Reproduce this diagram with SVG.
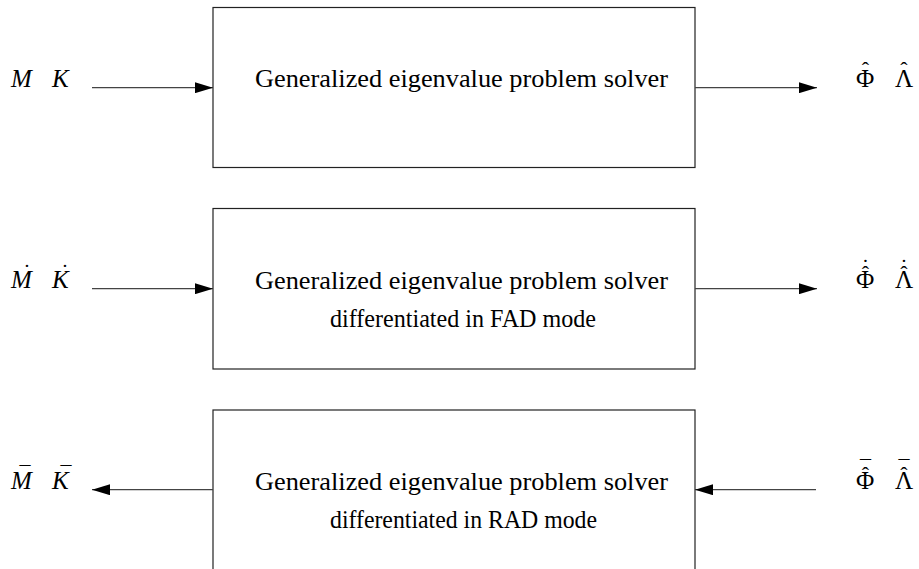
<svg xmlns="http://www.w3.org/2000/svg" width="919" height="569" viewBox="0 0 919 569">
<defs>
<marker id="ah" markerUnits="userSpaceOnUse" markerWidth="18" markerHeight="11" refX="18" refY="5.5" orient="auto">
<path d="M0,0 L18,5.5 L0,11 z" fill="#000"/>
</marker>
<style>
.box{fill:#fff;stroke:#222;stroke-width:1.2}
.t{font-family:"Liberation Serif","Times New Roman",serif;font-size:25px;fill:#000}
.m{font-family:"Liberation Serif","Times New Roman",serif;font-size:25px;font-style:italic;fill:#000}
.g{font-family:"Liberation Serif","Times New Roman",serif;font-size:25px;fill:#000}
.acc{font-family:"Liberation Serif","Times New Roman",serif;font-size:22px;fill:#000;text-anchor:middle}
.ln{stroke:#444;stroke-width:1.2;fill:none;marker-end:url(#ah)}
</style>
</defs>
<rect width="919" height="569" fill="#fff"/>
<g id="solver">
<rect class="box" x="213" y="7.5" width="482" height="160"/>
<text class="t" x="255" y="87" textLength="413" lengthAdjust="spacingAndGlyphs">Generalized eigenvalue problem solver</text>
</g>
<g id="solver-fad">
<rect class="box" x="213" y="208.5" width="482" height="160.5"/>
<text class="t" x="255" y="289" textLength="413" lengthAdjust="spacingAndGlyphs">Generalized eigenvalue problem solver</text>
<text class="t" x="330" y="327" textLength="266" lengthAdjust="spacingAndGlyphs">differentiated in FAD mode</text>
</g>
<g id="solver-rad">
<rect class="box" x="213" y="410" width="482" height="162"/>
<text class="t" x="255" y="490" textLength="413" lengthAdjust="spacingAndGlyphs">Generalized eigenvalue problem solver</text>
<text class="t" x="330" y="528" textLength="267" lengthAdjust="spacingAndGlyphs">differentiated in RAD mode</text>
</g>
<g id="in-MK">
<text class="m" x="11" y="87">M</text>
<text class="m" x="52" y="87">K</text>
</g>
<g id="out-PhiLambda">
<text class="g" x="856" y="87">Φ</text>
<text class="g" x="895" y="87">Λ</text>
<text class="acc" x="865.5" y="76.5">ˆ</text>
<text class="acc" x="904" y="76.5">ˆ</text>
</g>
<g id="in-MKdot">
<text class="m" x="11" y="288">M</text>
<text class="m" x="52" y="288">K</text>
<text class="acc" x="27" y="279">˙</text>
<text class="acc" x="65" y="279">˙</text>
</g>
<g id="out-PhiLambdadot">
<text class="g" x="856" y="288">Φ</text>
<text class="g" x="895" y="288">Λ</text>
<text class="acc" x="865.5" y="281">ˆ</text>
<text class="acc" x="904" y="281">ˆ</text>
<text class="acc" x="865.5" y="273.5">˙</text>
<text class="acc" x="904" y="273.5">˙</text>
</g>
<g id="out-MKbar">
<text class="m" x="11" y="489">M</text>
<text class="m" x="52" y="489">K</text>
<text class="acc" x="25" y="481">¯</text>
<text class="acc" x="66" y="481">¯</text>
</g>
<g id="in-PhiLambdabar">
<text class="g" x="856" y="489">Φ</text>
<text class="g" x="895" y="489">Λ</text>
<text class="acc" x="865.5" y="481.5">ˆ</text>
<text class="acc" x="904" y="481.5">ˆ</text>
<text class="acc" x="865.5" y="475">¯</text>
<text class="acc" x="904" y="475">¯</text>
</g>
<g id="connectors">
<line class="ln" x1="92" y1="87.7" x2="213" y2="87.7"/>
<line class="ln" x1="695" y1="87.7" x2="817" y2="87.7"/>
<line class="ln" x1="92" y1="288.7" x2="213" y2="288.7"/>
<line class="ln" x1="695" y1="288.7" x2="817" y2="288.7"/>
<line class="ln" x1="213" y1="489.7" x2="92" y2="489.7"/>
<line class="ln" x1="816" y1="489.7" x2="695" y2="489.7"/>
</g>
</svg>
